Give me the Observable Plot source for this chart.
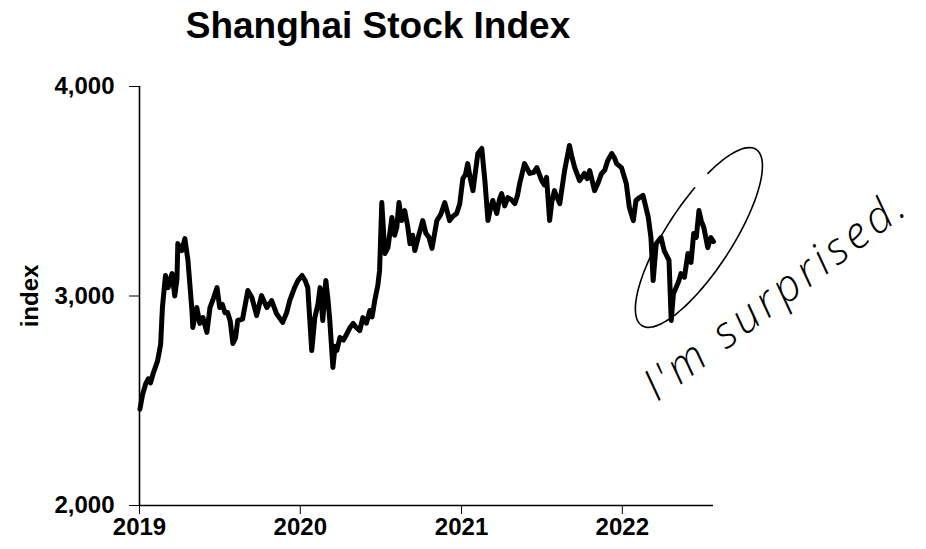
<!DOCTYPE html>
<html><head><meta charset="utf-8">
<script src="https://cdn.jsdelivr.net/npm/d3@7"></script>
<script src="https://cdn.jsdelivr.net/npm/@observablehq/plot@0.6"></script>
<style>
body{margin:0;background:#fff;}
#title{position:relative;height:60px;}
#title div{position:absolute;left:78px;width:600px;top:7px;text-align:center;font:bold 37px/1 "Liberation Sans",Arial,sans-serif;color:#000;}
</style></head><body>
<div id="title"><div>Shanghai Stock Index</div></div>
<div id="chart"></div>
<script>
const dates = [
"2019-01-02","2019-01-08","2019-01-15","2019-01-21","2019-01-26","2019-02-01","2019-02-11","2019-02-18","2019-02-22","2019-03-01",
"2019-03-07","2019-03-12","2019-03-16","2019-03-22","2019-03-27","2019-03-29","2019-04-07","2019-04-14","2019-04-21","2019-04-30",
"2019-05-02","2019-05-11","2019-05-18","2019-05-25","2019-06-03","2019-06-10","2019-06-18","2019-06-26","2019-07-02","2019-07-08",
"2019-07-14","2019-07-20","2019-07-26","2019-08-01","2019-08-07","2019-08-12","2019-08-23","2019-09-04","2019-09-13","2019-09-24",
"2019-10-05","2019-10-17","2019-10-28","2019-11-08","2019-11-22","2019-12-01","2019-12-08","2019-12-19","2019-12-27",
"2020-01-05","2020-01-12","2020-01-18","2020-01-27","2020-02-03","2020-02-10","2020-02-15","2020-02-21","2020-02-28","2020-03-04",
"2020-03-08","2020-03-15","2020-03-20","2020-03-24","2020-03-31","2020-04-08","2020-04-16","2020-04-23","2020-04-30","2020-05-07",
"2020-05-15","2020-05-22","2020-05-30","2020-06-07","2020-06-12","2020-06-18","2020-06-25","2020-06-29","2020-07-04","2020-07-11",
"2020-07-18","2020-07-27","2020-08-02","2020-08-07","2020-08-12","2020-08-18","2020-08-25","2020-09-01","2020-09-06","2020-09-12",
"2020-09-17","2020-09-26","2020-10-05","2020-10-12","2020-10-19","2020-10-26","2020-11-06","2020-11-15","2020-11-24","2020-12-05",
"2020-12-12","2020-12-21","2020-12-28",
"2021-01-04","2021-01-10","2021-01-15","2021-01-21","2021-01-27","2021-02-02","2021-02-07","2021-02-16","2021-02-23","2021-03-02",
"2021-03-08","2021-03-13","2021-03-22","2021-03-28","2021-04-02","2021-04-09","2021-04-16","2021-04-24","2021-05-02","2021-05-08",
"2021-05-13","2021-05-24","2021-06-05","2021-06-14","2021-06-21","2021-07-02","2021-07-08","2021-07-13","2021-07-20","2021-07-25",
"2021-07-31","2021-08-06","2021-08-12","2021-08-23","2021-09-03","2021-09-09","2021-09-15","2021-09-26","2021-10-07","2021-10-13",
"2021-10-19","2021-10-30","2021-11-07","2021-11-15","2021-11-22","2021-11-29","2021-12-08","2021-12-14","2021-12-19","2021-12-30",
"2022-01-10","2022-01-17","2022-01-26","2022-02-01","2022-02-09","2022-02-17","2022-03-01","2022-03-07","2022-03-12","2022-03-19",
"2022-03-30","2022-04-06","2022-04-17","2022-04-22","2022-04-27","2022-05-03","2022-05-09","2022-05-14","2022-05-22","2022-05-30",
"2022-06-06","2022-06-12","2022-06-18","2022-06-24","2022-06-29","2022-07-05","2022-07-14","2022-07-21","2022-07-27"
];
const values = [
2460,2530,2580,2605,2585,2630,2690,2770,2945,3098,
3040,3080,3107,3000,3080,3250,3217,3274,3170,2931,
2850,2945,2869,2897,2826,2945,2990,3040,2945,2960,
2920,2921,2880,2773,2800,2883,2890,3026,2993,2907,
3002,2945,2978,2916,2874,2920,2978,3040,3075,
3098,3074,3040,2740,2897,2960,3040,2883,3074,2980,
2883,2659,2760,2740,2802,2790,2821,2850,2869,2850,
2835,2897,2870,2931,2900,2978,3050,3122,3446,3203,
3231,3375,3290,3327,3446,3360,3408,3330,3250,3290,
3217,3290,3360,3300,3280,3227,3360,3390,3446,3360,
3380,3394,3440,
3560,3580,3632,3560,3503,3600,3680,3704,3551,3360,
3420,3456,3394,3460,3489,3430,3470,3460,3441,3480,
3537,3632,3585,3590,3613,3551,3530,3566,3360,3450,
3503,3470,3441,3599,3718,3660,3613,3551,3585,3560,
3599,3503,3540,3585,3600,3647,3680,3660,3632,3613,
3537,3422,3360,3456,3470,3480,3375,3279,3074,3250,
3279,3217,3170,2883,3010,3040,3070,3107,3090,3203,
3160,3298,3280,3408,3360,3327,3231,3279,3260
];
const yTicks = [2000, 3000, 4000];
const xTicks = ["2019-01-01", "2020-01-01", "2021-01-01", "2022-01-01"];
const xDomain = ["2019-01-01", "2022-07-27"];
const yDomain = [2000, 4000];
const yLabel = ["index"];
const noteTexts = ["I'm surprised."];
const noteDates = ["2022-12-16"];
const noteValues = [3005];
const circleDates = ["2022-06-25"];
const circleValues = [3277];

const parse = d3.utcParse("%Y-%m-%d");
const data = dates.map((d, i) => ({date: parse(d), value: values[i]}));
const notes = noteTexts.map((t, i) => ({text: t, date: parse(noteDates[i]), value: noteValues[i]}));

const chart = Plot.plot({
  width: 926, height: 489,
  marginTop: 26, marginBottom: 44, marginLeft: 139, marginRight: 213,
  style: {fontFamily: '"Liberation Sans", Arial, sans-serif', fontSize: "24px", fontWeight: "bold", color: "#000", background: "#fff", overflow: "visible"},
  x: {type: "utc", domain: xDomain.map(parse), ticks: xTicks.map(parse), tickFormat: d3.utcFormat("%Y"), tickSize: 9, tickPadding: 3, label: null},
  y: {domain: yDomain, ticks: yTicks, tickFormat: d3.format(","), tickSize: 10, tickPadding: 15, label: null},
  marks: [
    Plot.ruleY([yDomain[0]], {stroke: "#000", strokeWidth: 1.6}),
    Plot.ruleX([parse(xDomain[0])], {stroke: "#000", strokeWidth: 1.6}),
    Plot.line(data, {x: "date", y: "value", stroke: "#000", strokeWidth: 5, strokeLinejoin: "round", strokeLinecap: "round"}),
    Plot.text(yLabel, {frameAnchor: "left", textAnchor: "middle", lineAnchor: "middle", dx: -109, rotate: -90, text: d => d, fontSize: 24, fontWeight: "bold"}),
    Plot.text(notes, {x: "date", y: "value", text: "text", textAnchor: "middle", lineAnchor: "middle", rotate: -37, fontSize: 44, fontStyle: "italic", fontWeight: 300, fontFamily: '"Open Sans", sans-serif', fill: "#000"})
  ]
});
document.getElementById("chart").appendChild(chart);

// widen the handwritten-style note (letter spacing is a style, not a Plot channel)
d3.select(chart).selectAll("text")
  .filter(function() { return noteTexts.includes(this.textContent); })
  .style("letter-spacing", "4.5px");

// hand-drawn ellipse around the recent dip, anchored in data coordinates
let fx, fy;
try { fx = chart.scale("x").apply; fy = chart.scale("y").apply; } catch (e) {}
if (typeof fx !== "function") {
  fx = d3.scaleUtc(xDomain.map(parse), [139, 713]);
  fy = d3.scaleLinear(yDomain, [445, 26]);
}
const cx = fx(parse(circleDates[0])), cy = fy(circleValues[0]);
const rx = 33, ry = 105, rot = 33 * Math.PI / 180;
const pts = [];
for (let deg = 214; deg <= 562; deg += 4) {
  const t = deg * Math.PI / 180;
  const lx = rx * Math.cos(t), ly = ry * Math.sin(t);
  pts.push([cx + lx * Math.cos(rot) - ly * Math.sin(rot), cy + lx * Math.sin(rot) + ly * Math.cos(rot)]);
}
d3.select(chart).append("path")
  .attr("d", d3.line().curve(d3.curveCatmullRom)(pts))
  .attr("fill", "none").attr("stroke", "#000").attr("stroke-width", 1.6).attr("stroke-linecap", "round");
</script>
</body></html>
